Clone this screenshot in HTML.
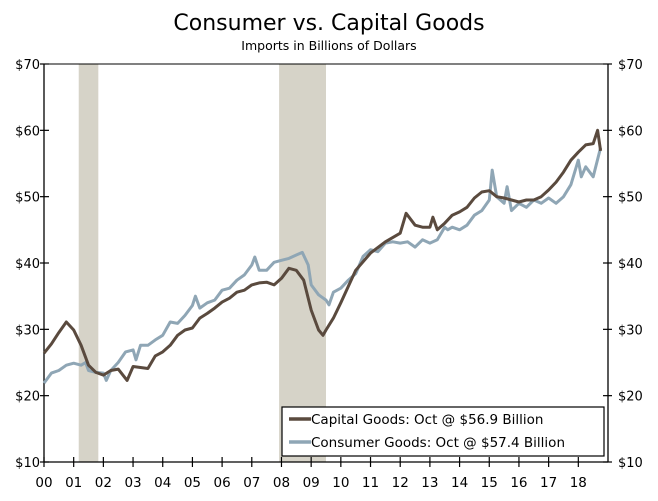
<!DOCTYPE html>
<html><head><meta charset="utf-8"><style>
body{margin:0;background:#fff;width:658px;height:497px;overflow:hidden;font-family:"DejaVu Sans","Liberation Sans",sans-serif}
svg text{font-family:"DejaVu Sans","Liberation Sans",sans-serif}
</style></head><body>
<svg id="chart" width="658" height="497">
<text x="329" y="30" text-anchor="middle" font-size="22">Consumer vs. Capital Goods</text>
<text x="329" y="50" text-anchor="middle" font-size="12.5">Imports in Billions of Dollars</text>
<g id="bands"></g><g id="axes"></g><g id="lines"></g>
<g>
<rect x="282" y="407" width="322" height="49" fill="#fff" stroke="#000" stroke-width="1.2"/>
<line x1="289" y1="419" x2="311" y2="419" stroke="#5a4a3e" stroke-width="3.5"/>
<text x="311" y="424" font-size="13.5">Capital Goods: Oct @ $56.9 Billion</text>
<line x1="289" y1="442" x2="311" y2="442" stroke="#8fa6b5" stroke-width="3.5"/>
<text x="311" y="447" font-size="13.5">Consumer Goods: Oct @ $57.4 Billion</text>
</g>
</svg>
<script>
const yTicks=[10,20,30,40,50,60,70];
const yearLabels=["00","01","02","03","04","05","06","07","08","09","10","11","12","13","14","15","16","17","18"];
const recessions=[[2001.17,2001.83],[2007.92,2009.5]];
const capDates=[2000,2000.25,2000.5,2000.75,2001,2001.25,2001.5,2001.75,2002,2002.25,2002.5,2002.8,2003,2003.5,2003.75,2004,2004.25,2004.5,2004.75,2005,2005.25,2005.5,2005.75,2006,2006.25,2006.5,2006.75,2007,2007.25,2007.5,2007.75,2008,2008.25,2008.5,2008.75,2009,2009.25,2009.4,2009.5,2009.75,2010,2010.5,2011,2011.5,2012,2012.2,2012.5,2012.75,2013,2013.1,2013.25,2013.5,2013.75,2014,2014.25,2014.5,2014.75,2015,2015.25,2015.5,2015.75,2016,2016.25,2016.5,2016.75,2017,2017.25,2017.5,2017.75,2018,2018.25,2018.5,2018.65,2018.75];
const capValues=[26.4,27.8,29.5,31.1,29.9,27.6,24.6,23.5,23.1,23.8,24.0,22.3,24.4,24.1,26.0,26.6,27.6,29.1,29.9,30.2,31.7,32.4,33.2,34.1,34.7,35.6,35.9,36.7,37.0,37.1,36.7,37.7,39.2,38.9,37.4,32.9,29.9,29.1,29.9,31.7,34.0,38.9,41.5,43.2,44.5,47.5,45.7,45.4,45.4,46.9,45.0,46.0,47.2,47.7,48.4,49.8,50.7,50.9,50.0,49.8,49.5,49.2,49.5,49.5,50.0,51.0,52.2,53.7,55.5,56.7,57.8,58.0,60.0,56.9];
const conDates=[2000,2000.25,2000.5,2000.75,2001,2001.25,2001.4,2001.5,2001.75,2002,2002.1,2002.25,2002.5,2002.75,2003,2003.1,2003.25,2003.5,2003.75,2004,2004.25,2004.5,2004.75,2005,2005.1,2005.25,2005.5,2005.75,2006,2006.25,2006.5,2006.75,2007,2007.1,2007.25,2007.5,2007.75,2008,2008.25,2008.5,2008.7,2008.9,2009,2009.25,2009.5,2009.6,2009.75,2010,2010.25,2010.5,2010.75,2011,2011.25,2011.5,2011.75,2012,2012.25,2012.5,2012.75,2013,2013.25,2013.5,2013.6,2013.75,2014,2014.25,2014.5,2014.75,2015,2015.1,2015.25,2015.5,2015.6,2015.75,2016,2016.25,2016.5,2016.75,2017,2017.25,2017.5,2017.75,2018,2018.1,2018.25,2018.5,2018.75];
const conValues=[21.9,23.4,23.8,24.6,24.9,24.6,25.0,23.8,23.5,23.4,22.3,23.8,25.0,26.6,26.9,25.4,27.6,27.6,28.4,29.1,31.1,30.9,32.1,33.6,35.0,33.2,34.0,34.4,35.9,36.2,37.4,38.2,39.7,40.9,38.9,38.9,40.1,40.4,40.7,41.2,41.6,39.7,36.7,35.2,34.4,33.7,35.6,36.2,37.4,38.4,41.0,42.0,41.7,43.0,43.2,43.0,43.2,42.4,43.5,43.0,43.5,45.4,45.0,45.4,45.0,45.7,47.2,47.9,49.5,54.0,50.0,49.0,51.5,47.9,49.0,48.4,49.5,49.0,49.8,49.0,50.0,51.8,55.5,53.0,54.5,53.0,57.4];
const L=44,R=608,T=64,B=462;
const xS=d=>L+(d-2000)*(R-L)/19;
const yS=v=>B-(v-10)*(B-T)/60;
const NS="http://www.w3.org/2000/svg";
function mk(tag,attrs,parent){const e=document.createElementNS(NS,tag);for(const k in attrs)e.setAttribute(k,attrs[k]);parent.appendChild(e);return e;}
const bands=document.getElementById('bands'),axes=document.getElementById('axes'),lines=document.getElementById('lines');
recessions.forEach(r=>{const e=mk('rect',{x:xS(r[0]),y:T,width:xS(r[1])-xS(r[0]),height:B-T,fill:'#d6d3c8'},bands);

});
let e=mk('line',{x1:L,y1:T,x2:L,y2:B,stroke:'#000','stroke-width':1.3},axes);


e=mk('line',{x1:R,y1:T,x2:R,y2:B,stroke:'#000','stroke-width':1.3},axes);


e=mk('line',{x1:L,y1:T,x2:R,y2:T,stroke:'#000','stroke-width':1},axes);


e=mk('line',{x1:L,y1:B,x2:R,y2:B,stroke:'#000','stroke-width':1.3},axes);


yTicks.forEach(v=>{const y=yS(v);
mk('line',{x1:L-4,y1:y,x2:L+5,y2:y,stroke:'#000','stroke-width':1.2},axes);
mk('line',{x1:R-5,y1:y,x2:R+4,y2:y,stroke:'#000','stroke-width':1.2},axes);
let t=mk('text',{x:L-4,y:y+5,'text-anchor':'end','font-size':13},axes);t.textContent='$'+v;


t=mk('text',{x:R+10,y:y+5,'font-size':13},axes);t.textContent='$'+v;

});
yearLabels.forEach((lab,i)=>{const x=xS(2000+i);
mk('line',{x1:x,y1:B-5,x2:x,y2:B+5,stroke:'#000','stroke-width':1.2},axes);
const t=mk('text',{x:x,y:B+25,'text-anchor':'middle','font-size':13.5},axes);t.textContent=lab;

});
function path(ds,vs){return ds.map((d,i)=>(i?'L':'M')+xS(d).toFixed(1)+','+yS(vs[i]).toFixed(1)).join('');}
e=mk('path',{d:path(conDates,conValues),fill:'none',stroke:'#8fa6b5','stroke-width':3,'stroke-linejoin':'round'},lines);


e=mk('path',{d:path(capDates,capValues),fill:'none',stroke:'#5a4a3e','stroke-width':3,'stroke-linejoin':'round'},lines);


</script>
</body></html>
